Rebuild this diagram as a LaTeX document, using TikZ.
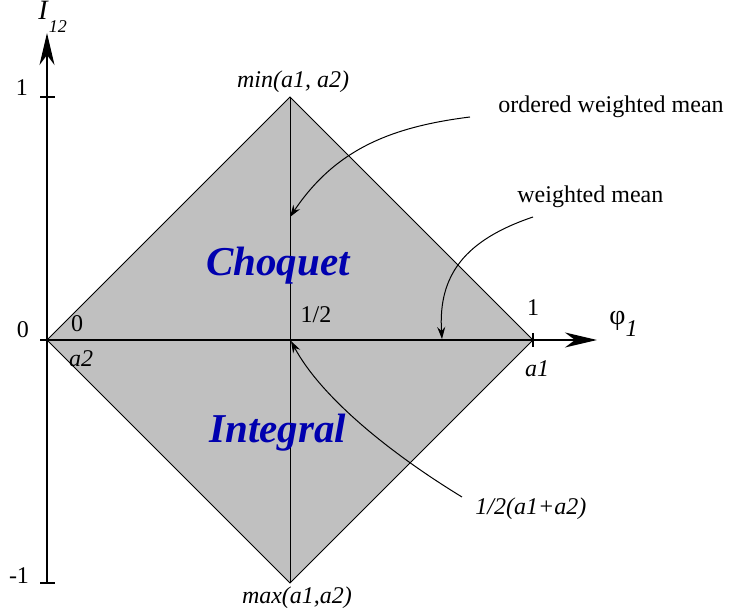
\documentclass[tikz,border=0pt]{standalone}
\usepackage{fontspec}
\setmainfont{Liberation Serif}
\usetikzlibrary{arrows.meta}
\definecolor{regiongray}{RGB}{192,192,192}
\definecolor{regionblue}{RGB}{0,0,175}

\begin{document}
\begin{tikzpicture}[
      x=0.5pt, y=-0.5pt,
      font=\fontsize{12}{14}\selectfont,
      lbl/.style={inner sep=0pt},
      ilbl/.style={lbl, font=\fontsize{12}{14}\selectfont\itshape},
      region/.style={lbl, text=regionblue,
                     font=\fontsize{20.5}{24}\selectfont\bfseries\itshape},
      axis/.style={line width=0.8pt, -{Stealth[length=16pt, width=7.5pt, inset=5pt]}},
      tick/.style={line width=0.6pt},
      edge/.style={line width=0.5pt},
      pointer/.style={line width=0.5pt, -{Stealth[length=6pt, width=4pt, inset=2pt]}},
    ]
    \useasboundingbox (0,0) rectangle (730,613);
    % corner points of the region
    \coordinate (lo) at (47,340);
    \coordinate (hi) at (290,97);
    \coordinate (ri) at (533,340);
    \coordinate (bo) at (290,583);
    \coordinate (mid) at (290,340);
    \fill[regiongray] (lo) -- (hi) -- (ri) -- (bo) -- cycle;
    \draw[edge] (lo) -- (hi) -- (ri) -- (bo) -- cycle;
    \draw[edge] (hi) -- (bo);
    % axes
    \coordinate (ybot) at (47,583);
    \coordinate (ytop) at (47,33);
    \coordinate (xleft) at (40,340);
    \coordinate (xright) at (597,340);
    \draw[axis] (ybot) -- (ytop);
    \draw[axis] (xleft) -- (xright);
    \draw[tick] (40,97) -- (55,97);
    \draw[tick] (40,583) -- (55,583);
    \draw[tick] (533,333) -- (533,347);
    % axis labels
    \node[lbl] (yone) at (22,88) {1};
    \node[lbl] (yzero) at (23,330) {0};
    \node[lbl] (ymone) at (19,576) {-1};
    \node[lbl, anchor=west] (ilab) at (38,17)
      {\fontsize{14}{14}\selectfont\textit{I}\raisebox{-1.0ex}{\fontsize{9}{9}\selectfont\textit{12}}};
    \node[lbl, anchor=west] (philab) at (609,324)
      {\fontsize{14}{14}\selectfont φ\raisebox{-0.9ex}{\fontsize{12}{12}\selectfont\textit{1}}};
    % corner labels
    \node[lbl] (zero) at (77,324) {0};
    \node[ilbl] (atwo) at (81,359) {a2};
    \node[lbl] (half) at (316,315) {1/2};
    \node[lbl] (one) at (533,308) {1};
    \node[ilbl] (aone) at (537,369) {a1};
    \node[ilbl] (minlab) at (293,82) {min(a1, a2)};
    \node[ilbl] (maxlab) at (297,598) {max(a1,a2)};
    % region names
    \node[region] (choq) at (278,266) {Choquet};
    \node[region] (integ) at (278,433) {Integral};
    % callouts
    \node[lbl, anchor=west] (owm) at (498,107) {ordered weighted mean};
    \node[lbl, anchor=west] (wm) at (517,197) {weighted mean};
    \node[ilbl, anchor=west] (mean) at (475,509) {1/2(a1+a2)};
    \coordinate (owmstart) at (470,117);
    \coordinate (owmtip) at (290,217);
    \coordinate (wmstart) at (533,217);
    \coordinate (wmtip) at (442,339);
    \coordinate (meanstart) at (462,497);
    \coordinate (meantip) at (291,341);
    \draw[pointer] (owmstart) .. controls (390,127) and (335,150) .. (owmtip);
    \draw[pointer] (wmstart) .. controls (465,240) and (438,275) .. (wmtip);
    \draw[pointer] (meanstart) .. controls (385,450) and (320,395) .. (meantip);
  \end{tikzpicture}
\end{document}
